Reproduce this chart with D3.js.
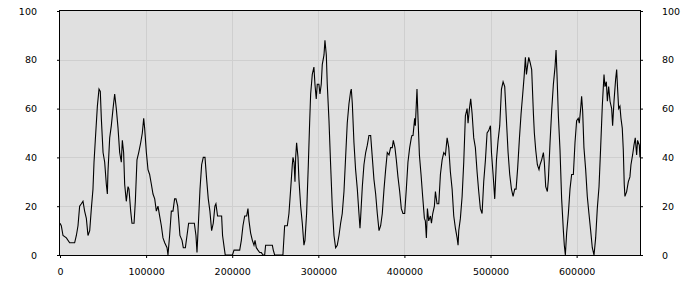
<!DOCTYPE html>
<html>
<head>
<meta charset="utf-8">
<script src="https://cdn.jsdelivr.net/npm/d3@7"></script>
<style>
  body { margin: 0; background: #fff; }
  text { font-family: 'DejaVu Sans', sans-serif; font-size: 9.5px; fill: #000; }
</style>
</head>
<body>
<svg id="chart"></svg>
<script>
// x positions of the samples
const xs = [
  0, 1500, 3500, 7400, 11200, 17000, 19000, 20900, 22800, 24800, 26700, 28600, 30600, 32500, 34500, 36400, 38300, 39500,
  41000, 43400, 45300, 46800, 48000, 50000, 51900, 53800, 55000, 55700, 57700, 59600, 61600, 63500, 65400, 67400, 69300,
  71200, 72400, 73900, 75100, 77000, 79000, 80100, 82100, 83600, 86000, 87500, 89400, 91400, 93700, 95600, 97200, 98300,
  100300, 102200, 104100, 106100, 108000, 110000, 111900, 113800, 115700, 117700, 119600, 121600, 124300, 125400, 127300,
  129300, 131200, 133100,
  134700, 136700, 137800, 139300, 141700, 143200, 145600, 147500, 149400, 152100, 156000, 157900, 159100, 160600, 162600,
  164500, 166400, 168400, 170300, 172200, 174100, 176100, 178000, 179900, 181100, 183000, 184900, 187700, 188800, 190700,
  191900, 193400, 200300, 202100, 208700, 210600, 212500, 214500, 216800, 218300, 219500, 221400, 223400, 225300, 226500,
  228000, 229900, 231900, 233800, 235800, 237700, 238800, 242700, 246600, 247700, 249300, 258900, 260900, 264000, 265900,
  267900, 269800, 270600,
  271800, 272900, 273700, 274800, 276400, 277500, 279500, 281400, 283300, 284500, 286400, 288400, 289900, 291100, 293000,
  294900, 296100, 297600, 298800, 300700, 301900, 303400, 304600, 306600, 307700, 309300, 310400, 312400, 314300, 316200,
  318200, 320100, 322000, 324000, 325900, 327800, 329800, 331700, 333600, 335600, 337500, 338300, 339500, 341400, 343300,
  345300, 347200, 348400, 349100, 351100, 353000, 355000, 356900, 358800, 360800, 362700, 364600, 366600, 368500, 370500,
  372400, 374300, 376300, 378200, 380100, 382100, 384000, 385900, 387100, 389000, 390600, 392500, 394500, 396400, 398300,
  400300, 402200, 404100, 406100, 408000,
  408800, 410000, 411900, 412700, 414600, 415800, 417400, 419300, 421200, 423200, 424300, 425500, 426700, 428200, 430200,
  431400, 432900, 434800, 436000, 437900, 439900, 441800, 443800, 445700, 447600, 449600, 451500, 453400, 455400, 457300,
  459200, 461200, 462300, 463100, 465000, 467000, 468900, 470800, 472800, 473900, 475500, 477000, 478600, 480500, 482400,
  484400, 486300, 488200, 490200, 492100, 494100, 496000, 497900, 499900, 501100, 503000, 504900, 506900, 508800, 510700,
  512700, 514600, 516500, 518500, 520400, 522300, 524300, 526200, 528100, 529700, 531600, 533600, 535500, 537400, 539000,
  540500, 541700, 543200, 544400,
  545900, 547800, 549800, 550900, 552500, 554400, 556300, 557500, 559400, 561400, 562500, 564100, 566000, 567200, 569100,
  571000, 573000, 574900, 576100, 577200, 578800, 580700, 582600, 584600, 585700, 586900, 588400, 590400, 592300, 594200,
  596200, 598100, 600000, 601900, 603100, 604700, 605800, 607000, 608500, 610500, 612400, 614300, 616300, 618200, 620200,
  622100, 624000, 626000, 627900, 629800, 631800, 632900, 634500, 635700, 637200, 638800, 640700, 641800, 643400, 645300,
  646500, 647600, 648800, 650300, 651500, 653000, 654200, 655300, 656100, 658100, 660000, 661900, 663100, 665000, 666600,
  668100, 669700, 670800, 672800, 673600
];

// values at those positions
const ys = [
  13, 12, 8, 7, 5, 5, 8, 12, 20, 21, 22, 18, 15, 8, 10, 19, 27, 38,
  47, 61, 68, 67, 56, 42, 38, 29, 25, 34, 48, 53, 60, 66, 60, 52, 42,
  38, 47, 42, 29, 22, 28, 27, 18, 13, 13, 22, 39, 42, 46, 50, 56, 52,
  42, 35, 33, 29, 25, 23, 18, 20, 16, 12, 7, 5, 3, 0, 8,
  18, 18, 23,
  23, 20, 15, 8, 6, 3, 3, 8, 13, 13, 13, 8, 1, 12, 27,
  37, 40, 40, 31, 23, 18, 10, 13, 20, 21, 16, 16, 16, 8, 3,
  0, 0, 0, 2, 2, 6, 12, 16, 16, 19, 14, 9, 6, 4, 6,
  3, 2, 1, 1, 0, 0, 4, 4, 4, 2, 0, 0, 12, 12, 17,
  27, 37, 40,
  38, 30, 40, 46, 40, 31, 20, 13, 4, 6, 17, 37, 54, 66, 74,
  77, 70, 64, 70, 70, 66, 70, 78, 82, 88, 82, 70, 55, 37, 20,
  8, 3, 4, 8, 13, 17, 26, 40, 54, 62, 67, 68, 62, 46, 35,
  27, 17, 11, 15, 28, 37, 42, 45, 49, 49, 40, 31, 25, 17, 10,
  12, 17, 27, 35, 42, 41, 44, 44, 47, 44, 39, 32, 26, 19, 17,
  17, 27, 38, 44, 48,
  49, 49, 56, 53, 68, 56, 41, 33, 24, 15, 14, 7, 19, 14, 16,
  13, 17, 20, 26, 21, 21, 33, 39, 42, 41, 48, 44, 34, 27, 16,
  11, 7, 4, 10, 15, 24, 38, 57, 60, 54, 60, 64, 58, 48, 44,
  34, 26, 19, 17, 30, 39, 50, 51, 53, 42, 33, 23, 39, 47, 53,
  68, 71, 69, 55, 42, 33, 27, 24, 27, 27, 36, 48, 58, 66, 73,
  81, 74, 78, 81,
  79, 76, 58, 50, 43, 37, 35, 37, 39, 42, 38, 28, 26, 31, 46,
  59, 70, 77, 84, 74, 57, 43, 23, 10, 4, 0, 9, 17, 27, 33,
  33, 46, 55, 56, 54, 60, 65, 59, 44, 35, 24, 17, 10, 3, 0,
  7, 19, 28, 44, 61, 74, 69, 71, 63, 69, 63, 60, 53, 63, 72,
  76, 68, 60, 61, 56, 52, 43, 29, 24, 26, 30, 32, 37, 41, 45,
  48, 41, 47, 45, 40
];

const yTicks = [0, 20, 40, 60, 80, 100];
const xTicks = [0, 100000, 200000, 300000, 400000, 500000, 600000];

const margin = {top: 11, right: 60, bottom: 45, left: 60},
  width = 700 - margin.left - margin.right,
  height = 300 - margin.top - margin.bottom;

const data = xs.map((d, i) => ({x: d, y: ys[i]}));

const x = d3.scaleLinear()
  .domain([0, d3.max(xs)])
  .range([0, width]);

const y = d3.scaleLinear()
  .domain([0, 100])
  .range([height, 0]);

const chart = d3.select('#chart')
  .attr('width', 700)
  .attr('height', 300)
  .append('g')
  .attr('transform', `translate(${margin.left},${margin.top})`);

// plot background
chart.append('rect')
  .attr('width', width)
  .attr('height', height)
  .style('fill', '#e0e0e0');

// grid
chart.append('g')
  .selectAll('line')
  .data(xTicks.slice(1))
  .enter().append('line')
  .attr('x1', (d) => Math.round(x(d)) + 0.5)
  .attr('x2', (d) => Math.round(x(d)) + 0.5)
  .attr('y1', 0)
  .attr('y2', height)
  .style('stroke', '#cfcfcf');

chart.append('g')
  .selectAll('line')
  .data(yTicks.slice(1, -1))
  .enter().append('line')
  .attr('x1', 0)
  .attr('x2', width)
  .attr('y1', (d) => Math.round(y(d)) + 0.5)
  .attr('y2', (d) => Math.round(y(d)) + 0.5)
  .style('stroke', '#cfcfcf');

// the series
const line = d3.line()
  .x((d) => x(d.x))
  .y((d) => y(d.y));

chart.append('path')
  .datum(data)
  .attr('d', line)
  .style('fill', 'none')
  .style('stroke', '#000')
  .style('stroke-width', 1.1);

// axes
const fmt = d3.format('d');

const bottom = chart.append('g')
  .attr('transform', `translate(0,${height})`)
  .call(d3.axisBottom(x).tickValues(xTicks).tickFormat(fmt).tickSize(3).tickPadding(10));

const left = chart.append('g')
  .call(d3.axisLeft(y).tickValues(yTicks).tickSize(3).tickPadding(20));

const right = chart.append('g')
  .attr('transform', `translate(${width},0)`)
  .call(d3.axisRight(y).tickValues(yTicks).tickSize(3).tickPadding(19));

[bottom, left, right].forEach((g) => {
  g.select('.domain').remove();
  g.selectAll('.tick line').style('stroke', '#000');
  g.selectAll('.tick text').style('font-family', "'DejaVu Sans', sans-serif").style('font-size', '9.5px').style('fill', '#000');
});

// frame
chart.append('rect')
  .attr('x', -0.5)
  .attr('y', -0.5)
  .attr('width', width + 1)
  .attr('height', height + 1)
  .style('fill', 'none')
  .style('stroke', '#000')
  .style('shape-rendering', 'crispEdges');
</script>
</body>
</html>
